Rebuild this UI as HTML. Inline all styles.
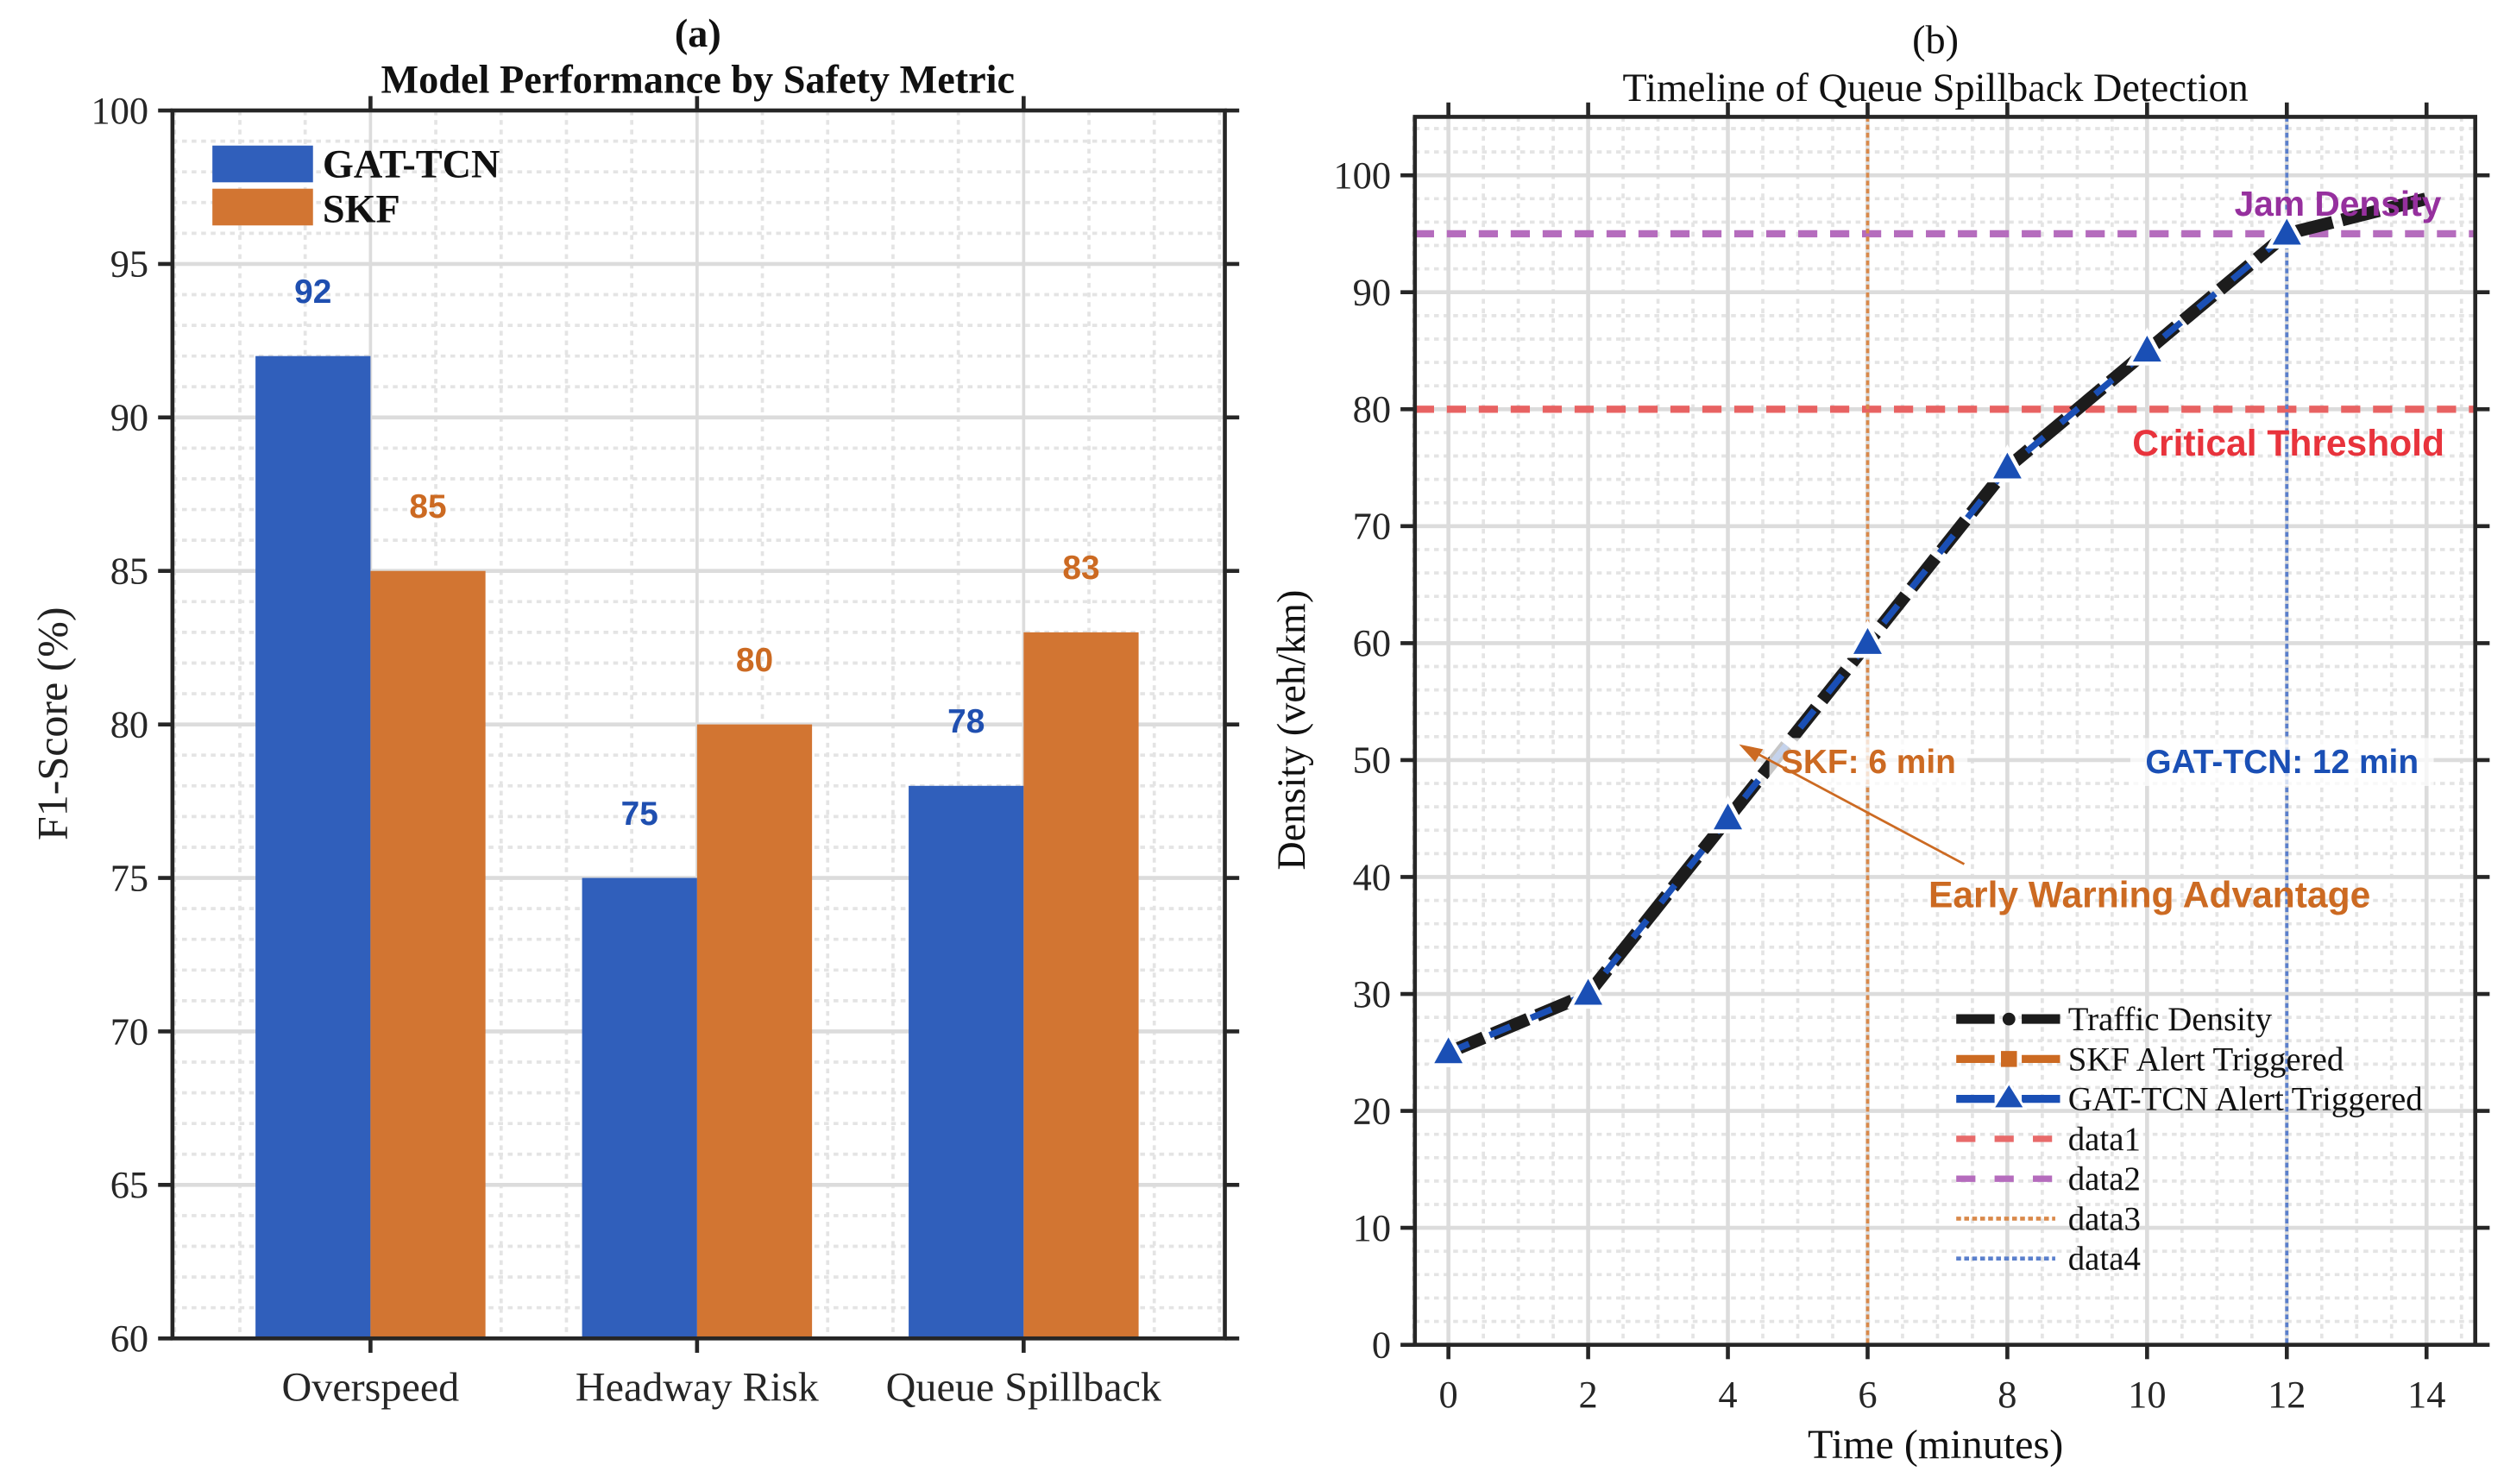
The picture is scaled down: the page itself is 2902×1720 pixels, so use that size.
<!DOCTYPE html>
<html><head><meta charset="utf-8"><style>
html,body{margin:0;padding:0;background:#fff;}
svg{display:block;}
.serif{font-family:"Liberation Serif",serif;}
.sans{font-family:"Liberation Sans",sans-serif;}
</style></head><body>
<svg id="fig" width="2902" height="1720" viewBox="0 0 1568 929" xmlns="http://www.w3.org/2000/svg">
<rect width="1568" height="929" fill="#fff"/>
<g id="pa"></g>
<g id="pb"></g>
</svg>
<script>
// Panel (a) data
const categories = ["Overspeed", "Headway Risk", "Queue Spillback"];
const gatValues = [92, 75, 78];
const skfValues = [85, 80, 83];
const aYTicks = [60, 65, 70, 75, 80, 85, 90, 95, 100];
// Panel (b) data
const timeValues = [0, 2, 4, 6, 8, 10, 12, 14];
const densityValues = [25, 30, 45, 60, 75, 85, 95, 98];
const alertTimeValues = [0, 2, 4, 6, 8, 10, 12];
const alertDensityValues = [25, 30, 45, 60, 75, 85, 95];
const bXTicks = [0, 2, 4, 6, 8, 10, 12, 14];
const bYTicks = [0, 10, 20, 30, 40, 50, 60, 70, 80, 90, 100];
const criticalThreshold = [80];
const jamDensity = [95];
const skfAlertTime = [6];
const gatAlertTime = [12];

const NS = "http://www.w3.org/2000/svg";
function mk(parent, tag, attrs, text) {
  const e = document.createElementNS(NS, tag);
  for (const k in attrs) e.setAttribute(k, attrs[k]);
  if (text !== undefined) e.textContent = text;
  parent.appendChild(e);
  return e;
}
const AX = "#262626";
const TICKFS = 24, TITLEFS = 25, LABFS = 26;

// ---------- Panel A ----------
(function(){
  const g = document.getElementById('pa');
  const L = 108, R = 767, T = 69, B = 838;
  const yMin = 60, yMax = 100;
  const y = v => B - (v - yMin) / (yMax - yMin) * (B - T);
  const catW = 204.5, c0 = 232;
  const x = i => c0 + i * catW;
  const bw = 72;
  for (let v = yMin; v <= yMax; v += 1) {
    if (v % 5 === 0) continue;
    const l = mk(g, 'line', {x1:L, x2:R, y1:y(v), y2:y(v), stroke:'#e4e4e4', 'stroke-width':2, 'stroke-dasharray':'3 3'});
    
    
  }
  for (let k = -3; k <= 13; k++) {
    if (k % 5 === 0) continue;
    const xx = c0 + k * catW / 5;
    if (xx <= L || xx >= R) continue;
    const l = mk(g, 'line', {x1:xx, x2:xx, y1:T, y2:B, stroke:'#e4e4e4', 'stroke-width':2, 'stroke-dasharray':'3 3'});
    
    
  }
  aYTicks.forEach(v => {
    const l = mk(g, 'line', {x1:L, x2:R, y1:y(v), y2:y(v), stroke:'#dcdcdc', 'stroke-width':2.5});
    
    
  });
  categories.forEach((c, i) => {
    const l = mk(g, 'line', {x1:x(i), x2:x(i), y1:T, y2:B, stroke:'#dcdcdc', 'stroke-width':2});
    
    
  });
  categories.forEach((c, i) => {
    const b1 = mk(g, 'rect', {x:x(i)-bw, y:y(gatValues[i]), width:bw, height:B-y(gatValues[i]), fill:'#305fbb'});
    
    
    const b2 = mk(g, 'rect', {x:x(i), y:y(skfValues[i]), width:bw, height:B-y(skfValues[i]), fill:'#d27532'});
    
    
    const t1 = mk(g, 'text', {x:x(i)-bw/2, y:y(gatValues[i]+2.1)+7, 'text-anchor':'middle', 'font-size':21, 'font-weight':'bold', fill:'#1f4fb0', class:'sans'}, String(gatValues[i]));
    
    
    const t2 = mk(g, 'text', {x:x(i)+bw/2, y:y(skfValues[i]+2.1)+7, 'text-anchor':'middle', 'font-size':21, 'font-weight':'bold', fill:'#cc6a22', class:'sans'}, String(skfValues[i]));
    
    
    const tl = mk(g, 'text', {x:x(i), y:877, 'text-anchor':'middle', 'font-size':LABFS, fill:'#262626', class:'serif'}, c);
    
    
    mk(g, 'line', {x1:x(i), x2:x(i), y1:B, y2:B+9, stroke:AX, 'stroke-width':2.5});
    mk(g, 'line', {x1:x(i), x2:x(i), y1:T, y2:T-9, stroke:AX, 'stroke-width':2.5});
  });
  aYTicks.forEach(v => {
    mk(g, 'line', {x1:L-9, x2:L, y1:y(v), y2:y(v), stroke:AX, 'stroke-width':2.5});
    mk(g, 'line', {x1:R, x2:R+9, y1:y(v), y2:y(v), stroke:AX, 'stroke-width':2.5});
    const t = mk(g, 'text', {x:L-15, y:y(v)+8, 'text-anchor':'end', 'font-size':TICKFS, fill:'#262626', class:'serif'}, String(v));
    
    
  });
  const box = mk(g, 'rect', {x:L, y:T, width:R-L, height:B-T, fill:'none', stroke:AX, 'stroke-width':2.5});
  
  
  const lg = mk(g, 'g', { });
  mk(lg, 'rect', {x:133, y:91, width:63, height:23, fill:'#305fbb',  });
  mk(lg, 'text', {x:202, y:111, 'font-size':25, 'font-weight':'bold', fill:'#111', class:'serif',  }, 'GAT-TCN');
  mk(lg, 'rect', {x:133, y:118, width:63, height:23, fill:'#d27532',  });
  mk(lg, 'text', {x:202, y:139, 'font-size':25, 'font-weight':'bold', fill:'#111', class:'serif',  }, 'SKF');
  mk(g, 'text', {x:437, y:29, 'text-anchor':'middle', 'font-size':TITLEFS, 'font-weight':'bold', fill:'#111', class:'serif',  }, '(a)');
  mk(g, 'text', {x:437, y:58, 'text-anchor':'middle', 'font-size':TITLEFS, 'font-weight':'bold', fill:'#111', class:'serif',  }, 'Model Performance by Safety Metric');
  mk(g, 'text', {x:0, y:0, transform:'translate(42,453) rotate(-90)', 'text-anchor':'middle', 'font-size':27, fill:'#222', class:'serif',  }, 'F1-Score (%)');
})();

// ---------- Panel B ----------
(function(){
  const g = document.getElementById('pb');
  const L = 886, R = 1550, T = 73, B = 842;
  const x0 = 907, ux = 43.75;
  const x = v => x0 + v * ux;
  const yMax = 105;
  const y = v => B - v / yMax * (B - T);
  for (let v = 2; v < yMax; v += 2) {
    if (v % 10 === 0) continue;
    const l = mk(g, 'line', {x1:L, x2:R, y1:y(v), y2:y(v), stroke:'#e4e4e4', 'stroke-width':2, 'stroke-dasharray':'3 3'});
    
    
  }
  for (let v = -0.5; v <= 14.6; v += 0.5) {
    if (Math.abs(v % 2) < 1e-6) continue;
    const l = mk(g, 'line', {x1:x(v), x2:x(v), y1:T, y2:B, stroke:'#e4e4e4', 'stroke-width':2, 'stroke-dasharray':'3 3'});
    
    
  }
  bYTicks.forEach(v => {
    const l = mk(g, 'line', {x1:L, x2:R, y1:y(v), y2:y(v), stroke:'#dcdcdc', 'stroke-width':2.5});
    
    
  });
  bXTicks.forEach(v => {
    const l = mk(g, 'line', {x1:x(v), x2:x(v), y1:T, y2:B, stroke:'#dcdcdc', 'stroke-width':2.5});
    
    
  });
  criticalThreshold.forEach(v => {
    const l = mk(g, 'line', {x1:L, x2:R, y1:y(v), y2:y(v), stroke:'#e85c5c', 'stroke-width':4.5, 'stroke-dasharray':'12 8', opacity:0.95});
    
    
  });
  jamDensity.forEach(v => {
    const l = mk(g, 'line', {x1:L, x2:R, y1:y(v), y2:y(v), stroke:'#b56cbd', 'stroke-width':4.5, 'stroke-dasharray':'12 8'});
    
    
  });
  skfAlertTime.forEach(v => {
    const l = mk(g, 'line', {x1:x(v), x2:x(v), y1:T, y2:B, stroke:'#d9894a', 'stroke-width':2, 'stroke-dasharray':'3 2'});
    
    
  });
  gatAlertTime.forEach(v => {
    const l = mk(g, 'line', {x1:x(v), x2:x(v), y1:T, y2:B, stroke:'#5a7fcc', 'stroke-width':2, 'stroke-dasharray':'3 2'});
    
    
  });
  const pts = timeValues.map((t, i) => x(t) + ',' + y(densityValues[i])).join(' ');
  const dl = mk(g, 'polyline', {points:pts, fill:'none', stroke:'#1c1c1c', 'stroke-width':8, 'stroke-dasharray':'24 6'});
  
  
  const apts = alertTimeValues.map((t, i) => x(t) + ',' + y(alertDensityValues[i])).join(' ');
  const al = mk(g, 'polyline', {points:apts, fill:'none', stroke:'#1a4fb5', 'stroke-width':4, 'stroke-dasharray':'14 14'});
  
  
  alertTimeValues.forEach((t, i) => {
    const cx = x(t), cy = y(alertDensityValues[i]);
    const m = mk(g, 'polygon', {points:`${cx},${cy-12} ${cx-11},${cy+8} ${cx+11},${cy+8}`, fill:'#1a4fb5', stroke:'#fff', 'stroke-width':2.5});
    
    
  });
  const bg1 = mk(g, 'rect', {x:1108, y:462, width:124, height:30, fill:'#fff', opacity:0.75});
  
  
  mk(g, 'text', {x:1170, y:484, 'text-anchor':'middle', 'font-size':21, 'font-weight':'bold', fill:'#cc6a22', class:'sans',  }, 'SKF: 6 min');
  const bg2 = mk(g, 'rect', {x:1334, y:462, width:190, height:30, fill:'#fff', opacity:0.75});
  
  
  mk(g, 'text', {x:1429, y:484, 'text-anchor':'middle', 'font-size':21, 'font-weight':'bold', fill:'#1a4fb5', class:'sans',  }, 'GAT-TCN: 12 min');
  mk(g, 'text', {x:1464, y:135, 'text-anchor':'middle', 'font-size':22, 'font-weight':'bold', fill:'#96309e', class:'sans',  }, 'Jam Density');
  mk(g, 'text', {x:1433, y:285, 'text-anchor':'middle', 'font-size':23, 'font-weight':'bold', fill:'#e8333c', class:'sans',  }, 'Critical Threshold');
  mk(g, 'text', {x:1346, y:568, 'text-anchor':'middle', 'font-size':23, 'font-weight':'bold', fill:'#cc6a22', class:'sans',  }, 'Early Warning Advantage');
  mk(g, 'line', {x1:1230, y1:541, x2:1097, y2:470, stroke:'#cc6a22', 'stroke-width':1.5,  });
  mk(g, 'polygon', {points:'1089,466 1104,469 1099,477', fill:'#cc6a22',  });
  bXTicks.forEach(v => {
    mk(g, 'line', {x1:x(v), x2:x(v), y1:B, y2:B+9, stroke:AX, 'stroke-width':2.5});
    mk(g, 'line', {x1:x(v), x2:x(v), y1:T, y2:T-9, stroke:AX, 'stroke-width':2.5});
    const t = mk(g, 'text', {x:x(v), y:881, 'text-anchor':'middle', 'font-size':TICKFS, fill:'#262626', class:'serif'}, String(v));
    
    
  });
  bYTicks.forEach(v => {
    mk(g, 'line', {x1:L-9, x2:L, y1:y(v), y2:y(v), stroke:AX, 'stroke-width':2.5});
    mk(g, 'line', {x1:R, x2:R+9, y1:y(v), y2:y(v), stroke:AX, 'stroke-width':2.5});
    const t = mk(g, 'text', {x:L-15, y:y(v)+8, 'text-anchor':'end', 'font-size':TICKFS, fill:'#262626', class:'serif'}, String(v));
    
    
  });
  const box = mk(g, 'rect', {x:L, y:T, width:R-L, height:B-T, fill:'none', stroke:AX, 'stroke-width':2.5});
  
  
  const lg = mk(g, 'g', { });
  const rows = [
    ['Traffic Density', '#1c1c1c', 'dashdot'],
    ['SKF Alert Triggered', '#cc6a22', 'dash-sq'],
    ['GAT-TCN Alert Triggered', '#1a4fb5', 'dash-tri'],
    ['data1', '#e86a6a', 'dash'],
    ['data2', '#b56cbd', 'dash'],
    ['data3', '#d9894a', 'dot'],
    ['data4', '#5a7fcc', 'dot']
  ];
  rows.forEach((r, i) => {
    const yy = 638 + i * 25;
    const x1 = 1225, x2 = 1290;
    if (r[2] === 'dashdot' || r[2] === 'dash-sq' || r[2] === 'dash-tri') {
      mk(lg, 'line', {x1:x1, x2:x1+24, y1:yy, y2:yy, stroke:r[1], 'stroke-width':r[2]==='dashdot'?6:5});
      mk(lg, 'line', {x1:x2-24, x2:x2, y1:yy, y2:yy, stroke:r[1], 'stroke-width':r[2]==='dashdot'?6:5});
      if (r[2] === 'dashdot') mk(lg, 'circle', {cx:1258, cy:yy, r:4, fill:r[1]});
      if (r[2] === 'dash-sq') mk(lg, 'rect', {x:1253, y:yy-5, width:10, height:10, fill:r[1]});
      if (r[2] === 'dash-tri') mk(lg, 'polygon', {points:`1258,${yy-10} 1248,${yy+6} 1268,${yy+6}`, fill:r[1], stroke:'#fff', 'stroke-width':1.5});
    } else if (r[2] === 'dash') {
      mk(lg, 'line', {x1:x1, x2:x2, y1:yy, y2:yy, stroke:r[1], 'stroke-width':4, 'stroke-dasharray':'12 12'});
    } else {
      mk(lg, 'line', {x1:x1, x2:x2-3, y1:yy, y2:yy, stroke:r[1], 'stroke-width':2.5, 'stroke-dasharray':'3 2'});
    }
    const t = mk(lg, 'text', {x:1295, y:yy+7, 'font-size':21, fill:'#111', class:'serif'}, r[0]);
    
    
  });
  mk(g, 'text', {x:1212, y:33, 'text-anchor':'middle', 'font-size':TITLEFS, fill:'#111', class:'serif',  }, '(b)');
  mk(g, 'text', {x:1212, y:63, 'text-anchor':'middle', 'font-size':TITLEFS, fill:'#111', class:'serif',  }, 'Timeline of Queue Spillback Detection');
  mk(g, 'text', {x:0, y:0, transform:'translate(817,457) rotate(-90)', 'text-anchor':'middle', 'font-size':25, fill:'#111', class:'serif',  }, 'Density (veh/km)');
  mk(g, 'text', {x:1212, y:913, 'text-anchor':'middle', 'font-size':LABFS, fill:'#111', class:'serif',  }, 'Time (minutes)');
})();
</script>
</body></html>
